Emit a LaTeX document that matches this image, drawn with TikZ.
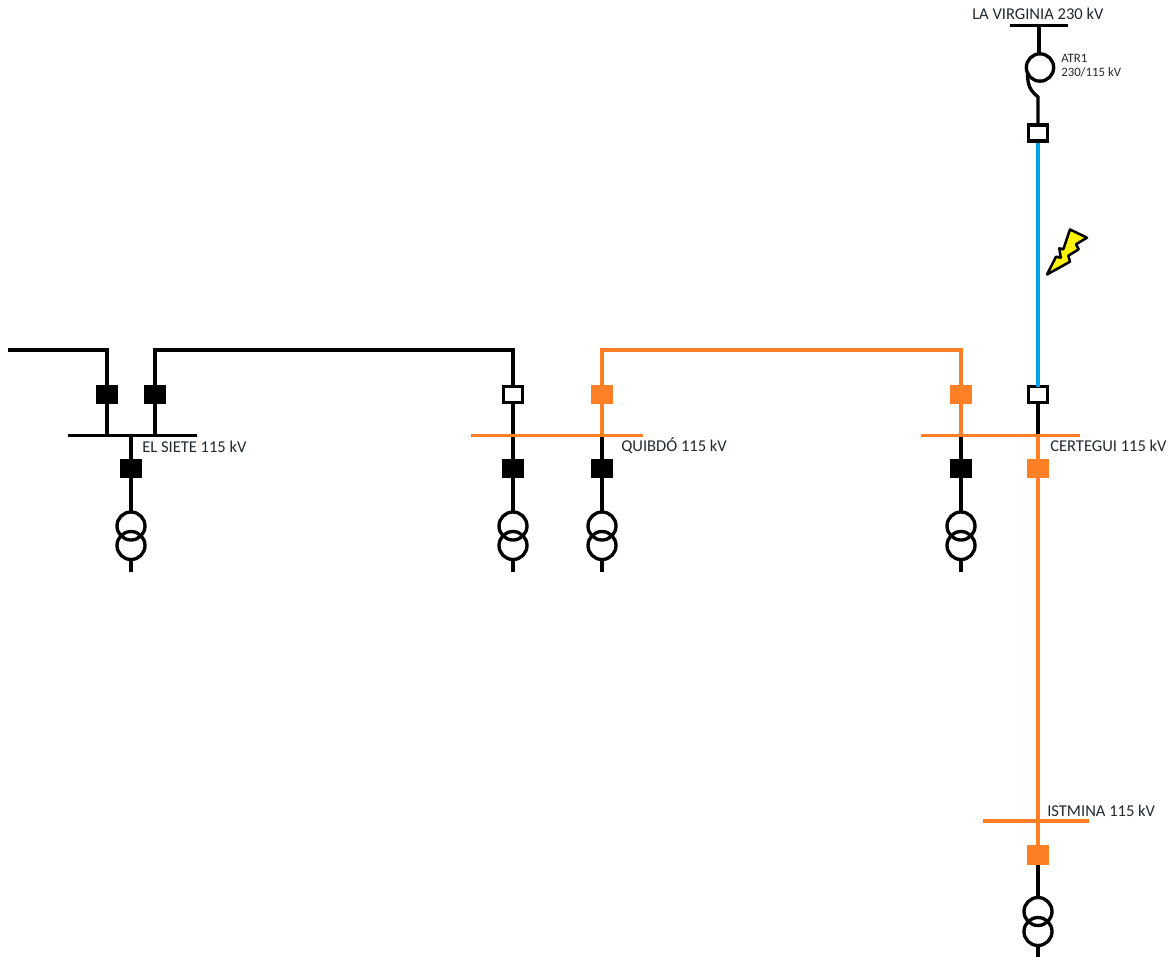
\documentclass[tikz,border=0pt]{standalone}
\usepackage{fontspec}
\setmainfont{Carlito}
\definecolor{lineorange}{HTML}{FF7F27}
\definecolor{lineblue}{HTML}{00A2E8}
\definecolor{boltyellow}{HTML}{FFF200}
\definecolor{labelgrey}{HTML}{202830}
\tikzset{
  wire/.style={line width=2.5pt,line join=miter},
  blackwire/.style={wire,draw=black},
  orangewire/.style={wire,draw=lineorange},
  bluewire/.style={wire,draw=lineblue},
  bkfilled/.style={rectangle,inner sep=0pt,outer sep=0pt,minimum width=16.1pt,minimum height=14.4pt},
  bkblack/.style={bkfilled,fill=black},
  bkorange/.style={bkfilled,fill=lineorange},
  bkopen/.style={rectangle,inner sep=0pt,outer sep=0pt,minimum width=13.8pt,minimum height=12pt,draw=black,fill=white,line width=2.5pt},
  busbar/.style={rectangle,inner sep=0pt,outer sep=0pt,minimum height=2.5pt},
  winding/.style={circle,inner sep=0pt,outer sep=0pt,minimum size=21pt,draw=black,line width=2.5pt},
  atrwinding/.style={circle,inner sep=0pt,outer sep=0pt,minimum size=20.5pt,draw=black,line width=2.5pt},
  lbl/.style={anchor=west,inner sep=0pt,text=labelgrey,font=\fontsize{12.4pt}{14pt}\selectfont},
  smalllbl/.style={anchor=west,inner sep=0pt,text=labelgrey,font=\fontsize{9.6pt}{11pt}\selectfont},
}
\begin{document}
\begin{tikzpicture}[x=.75pt,y=-.75pt]
\useasboundingbox (0,0) rectangle (1172,957);
% breakers
\node[bkblack] (bA) at (107,394.5) {};
\node[bkblack] (bB) at (155,394.5) {};
\node[bkblack] (bC) at (131,468.5) {};
\node[bkopen] (bD) at (513,394.5) {};
\node[bkorange] (bE) at (602,394.5) {};
\node[bkblack] (bF) at (513,468.5) {};
\node[bkblack] (bG) at (602,468.5) {};
\node[bkorange] (bH) at (961,394.5) {};
\node[bkopen] (bI) at (1038,394.5) {};
\node[bkblack] (bJ) at (961,468.5) {};
\node[bkorange] (bK) at (1038,468.5) {};
\node[bkopen] (bL) at (1038,133) {};
\node[bkorange] (bM) at (1038,855) {};
% bars (positions first, drawn over the wires later)
\coordinate (busS) at (132.5,435.5);
\coordinate (busQ) at (557,435.5);
\coordinate (busC) at (1000.5,435.5);
\coordinate (busI) at (1036,821);
\coordinate (busV) at (1039,25.5);
% transformers
\node[winding] (t1a) at (131,526) {};
\node[winding] (t1b) at (131,545.5) {};
\node[winding] (t2a) at (513,526) {};
\node[winding] (t2b) at (513,545.5) {};
\node[winding] (t3a) at (602,526) {};
\node[winding] (t3b) at (602,545.5) {};
\node[winding] (t4a) at (961,526) {};
\node[winding] (t4b) at (961,545.5) {};
\node[winding] (t5a) at (1038,911.5) {};
\node[winding] (t5b) at (1038,931.5) {};
% free ends and bends
\coordinate (feedW) at (8,350);
\coordinate (kA) at (107,350);
\coordinate (kB) at (155,350);
\coordinate (kD) at (513,350);
\coordinate (kE) at (602,350);
\coordinate (kH) at (961,350);
\coordinate (e1) at (131,571.5);
\coordinate (e2) at (513,571.5);
\coordinate (e3) at (602,571.5);
\coordinate (e4) at (961,571.5);
\coordinate (e5) at (1038,957);
\coordinate (tailA) at (1027.5,72);
\coordinate (tailB) at (1038,97);
% wires
\draw[blackwire] (feedW) -- (kA) -- (bA);
\draw[blackwire] (bA) -- (bA |- busS);
\draw[blackwire] (bB) -- (kB) -- (kD) -- (bD);
\draw[blackwire] (bB) -- (bB |- busS);
\draw[blackwire] (bC |- busS) -- (bC);
\draw[blackwire] (bC) -- (t1a);
\draw[blackwire] (t1b) -- (e1);
\draw[blackwire] (bD) -- (bD |- busQ);
\draw[blackwire] (bF |- busQ) -- (bF);
\draw[blackwire] (bF) -- (t2a);
\draw[blackwire] (t2b) -- (e2);
\draw[orangewire] (bE) -- (kE) -- (kH) -- (bH);
\draw[orangewire] (bE) -- (bE |- busQ);
\draw[blackwire] (bG |- busQ) -- (bG);
\draw[blackwire] (bG) -- (t3a);
\draw[blackwire] (t3b) -- (e3);
\draw[orangewire] (bH) -- (bH |- busC);
\draw[blackwire] (bJ |- busC) -- (bJ);
\draw[blackwire] (bJ) -- (t4a);
\draw[blackwire] (t4b) -- (e4);
\draw[blackwire] (bI) -- (bI |- busC);
\draw[bluewire] (bL) -- (bI);
\draw[orangewire] (bK |- busC) -- (bK);
\draw[orangewire] (bK) -- (bM);
\draw[blackwire] (bM) -- (t5a);
\draw[blackwire] (t5b) -- (e5);
% ATR1
\node[atrwinding] (atr) at (1040,67.5) {};
\draw[blackwire] (busV) -- (busV |- atr.north);
\draw[blackwire] (tailA) .. controls (1027.5,86) and (1030,90) .. (tailB) -- (bL);
% repaint the breakers that the wires run into
\node[bkopen] at (bL) {};
% bars
\node[busbar,fill=black,minimum width=96.75pt] (barS) at (busS) {};
\node[busbar,fill=lineorange,minimum width=129pt] (barQ) at (busQ) {};
\node[busbar,fill=lineorange,minimum width=119.25pt] (barC) at (busC) {};
\node[busbar,fill=lineorange,minimum width=79.5pt] (barI) at (busI) {};
\node[busbar,fill=black,minimum width=43.5pt] (barV) at (busV) {};
% lightning bolt
\draw[fill=boltyellow,draw=black,line width=1.9pt,line join=round]
  (1070,229.5) -- (1087,237.7) -- (1076,244.3) -- (1078.7,249.3) -- (1068.3,255.7)
  -- (1070,261.7) -- (1047,274.5) -- (1056,256.7) -- (1060.7,257.7) -- (1059.3,248.3)
  -- (1063.3,249.3) -- cycle;
% labels
\node[lbl] (lV) at (972,14) {LA VIRGINIA 230 kV};
\node[smalllbl] (lA) at (1061,58) {ATR1};
\node[smalllbl] (lB) at (1061,72.5) {230/115 kV};
\node[lbl] (lS) at (142,447) {EL SIETE 115 kV};
\node[lbl] (lQ) at (621,446) {QUIBDÓ 115 kV};
\node[lbl] (lC) at (1050,446) {CERTEGUI 115 kV};
\node[lbl] (lI) at (1047,811) {ISTMINA 115 kV};
\end{tikzpicture}
\end{document}
